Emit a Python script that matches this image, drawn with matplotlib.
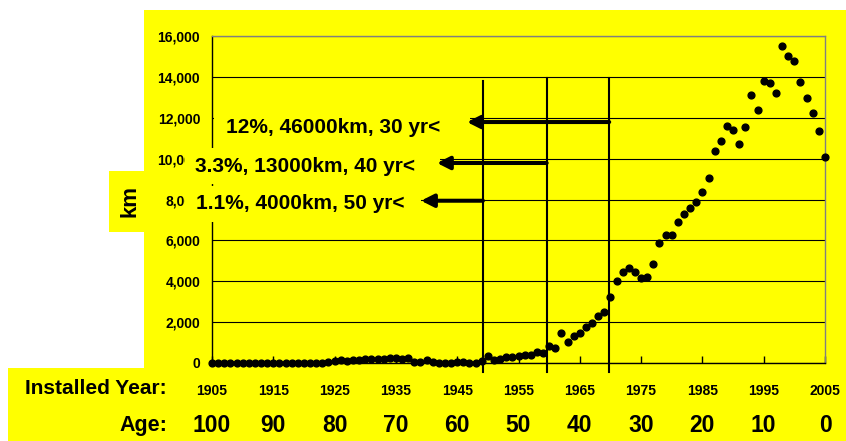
import matplotlib
matplotlib.use("Agg")
import matplotlib.pyplot as plt
from matplotlib.patches import Rectangle
from matplotlib.transforms import blended_transform_factory

plt.rcParams['font.family'] = ['Liberation Sans', 'DejaVu Sans']
plt.rcParams['font.weight'] = 'bold'

# km installed per year, 1905-2005
years = list(range(1905, 2006))
km = [20, 20, 20, 20, 20, 20, 20, 20, 20, 20,
      20, 20, 20, 20, 20, 20, 20, 20, 20, 50,
      100, 150, 80, 150, 150, 200, 200, 180, 200, 230,
      230, 200, 230, 60, 60, 130, 60, 20, 20, 20,
      60, 60, 20, 20, 90, 320, 160, 210, 270, 270,
      350, 410, 410, 530, 480, 850, 720, 1470, 1040, 1340,
      1480, 1780, 1940, 2310, 2510, 3230, 3990, 4470, 4650, 4470,
      4170, 4210, 4840, 5870, 6250, 6280, 6910, 7290, 7600, 7890,
      8370, 9050, 10350, 10860, 11600, 11400, 10720, 11550, 13110, 12380,
      13800, 13700, 13210, 15530, 15040, 14780, 13730, 12950, 12210, 11330,
      10090]

tick_years = list(range(1905, 2006, 10))
ages = [2005 - y for y in tick_years]

# age cut-off lines and their notes
cut_years = [1949.2, 1959.6, 1969.8]
cut_tops = [13810, 13960, 13960]
notes = ["1.1%, 4000km, 50 yr<", "3.3%, 13000km, 40 yr<", "12%, 46000km, 30 yr<"]
note_y = [7940, 9786, 11790]
arrow_tips = [1939.1, 1941.7, 1946.6]
note_x = [1902.4, 1902.2, 1907.3]
note_text_y = [7795, 9605, 11510]

YEL = '#ffff00'
W, H = 846, 441
fig = plt.figure(figsize=(W / 100, H / 100), dpi=100)
fig.patch.set_facecolor('white')

def px_rect(x0, y0, x1, y1):
    return (x0 / W, 1 - y1 / H), (x1 - x0) / W, (y1 - y0) / H

# yellow background pieces
for r in [(144, 10, 846, 369), (8, 368, 846, 441), (109, 171, 144, 232)]:
    xy, w, h = px_rect(*r)
    fig.add_artist(Rectangle(xy, w, h, transform=fig.transFigure,
                             facecolor=YEL, edgecolor='none', zorder=-5))

ax = fig.add_axes([212 / W, 1 - 363 / H, 613 / W, 327 / H])
ax.set_facecolor('none')
ax.plot(years, km, 'o', color='black', ms=4.9, clip_on=False, zorder=3)

ax.set_xlim(1905, 2005)
ax.set_ylim(0, 16000)
ax.set_yticks(range(0, 16001, 2000))
ax.set_yticklabels([f"{v:,}" for v in range(0, 16001, 2000)])
ax.set_xticks(tick_years)
ax.grid(axis='y', color='black', lw=0.8)
ax.set_axisbelow(True)
ax.tick_params(axis='y', length=0, pad=8.5, labelsize=10)
ax.tick_params(axis='x', direction='in', length=5, width=1, pad=15, labelsize=10)
for s in ['left', 'bottom']:
    ax.spines[s].set_color('black')
    ax.spines[s].set_linewidth(1)
for s in ['top', 'right']:
    ax.spines[s].set_color('#808080')
    ax.spines[s].set_linewidth(1)

# yellow boxes behind the notes (they hide grid and tick labels)
for r in [(185, 186, 421, 222), (185, 148, 440, 184), (214, 104, 470, 141)]:
    xy, w, h = px_rect(*r)
    ax.add_patch(Rectangle(xy, w, h, transform=fig.transFigure, facecolor=YEL,
                           edgecolor='none', clip_on=False, zorder=4))

for cx, top in zip(cut_years, cut_tops):
    ax.plot([cx, cx], [-440, top], color='black', lw=1.5, clip_on=False, zorder=5)

for txt, yv, tip, cx, tx, ty in zip(notes, note_y, arrow_tips, cut_years, note_x, note_text_y):
    ax.annotate('', xy=(tip, yv), xytext=(cx, yv),
                arrowprops=dict(arrowstyle='-|>,head_length=0.75,head_width=0.38',
                                lw=2.9, color='black', shrinkA=0, shrinkB=0),
                annotation_clip=False, zorder=6)
    ax.text(tx, ty, txt, fontsize=15, fontweight='bold', ha='left', va='center',
            clip_on=False, zorder=6)

fig.text(130 / W, 1 - 201 / H, 'km', rotation=90, fontsize=16, fontweight='bold',
         ha='center', va='center')
fig.text(167 / W, 1 - 389 / H, 'Installed Year:', fontsize=15, fontweight='bold',
         ha='right', va='center')
fig.text(167 / W, 1 - 425 / H, 'Age:', fontsize=15.5, fontweight='bold',
         ha='right', va='center')
trans = blended_transform_factory(ax.transData, fig.transFigure)
for yr, a in zip(tick_years, ages):
    ax.text(yr, 1 - 425 / H, str(a), transform=trans, fontsize=16.5,
            fontweight='bold', ha='center', va='center', clip_on=False)

fig.savefig('out.png', dpi=100)
